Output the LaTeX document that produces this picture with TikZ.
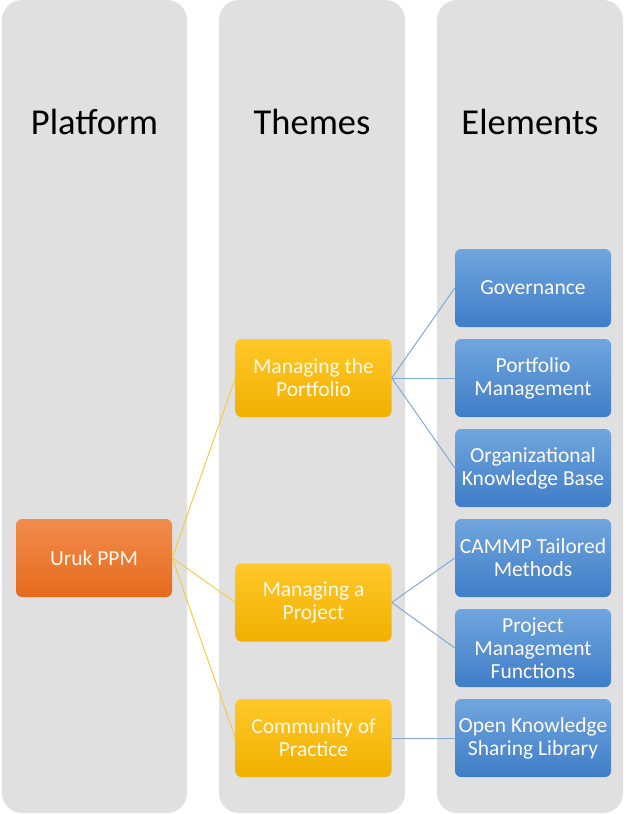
\documentclass[tikz,border=0pt]{standalone}
\usepackage{fontspec}
\setmainfont{Carlito}
\definecolor{colbg}{HTML}{E0E0E0}
\definecolor{orgtop}{HTML}{F28C4E}
\definecolor{orgbot}{HTML}{E56A1C}
\definecolor{yeltop}{HTML}{FFC829}
\definecolor{yelbot}{HTML}{F0B000}
\definecolor{blutop}{HTML}{70A6DE}
\definecolor{blubot}{HTML}{3F7DC8}
\definecolor{yelline}{HTML}{F5CB4A}
\definecolor{bluline}{HTML}{84A9D2}
\definecolor{txtcol}{HTML}{FFF9EC}
\begin{document}
\begin{tikzpicture}[x=1pt,y=-1pt,
  column/.style={fill=colbg, rounded corners=20pt},
  header/.style={font=\fontsize{36.5}{40}\selectfont, text=black},
  box/.style={minimum width=156pt, minimum height=78pt, rounded corners=6pt,
     align=center, text=txtcol, inner sep=2pt,
     font=\fontsize{21.5}{23}\selectfont},
  orangebox/.style={box, top color=orgtop, bottom color=orgbot},
  yellowbox/.style={box, top color=yeltop, bottom color=yelbot},
  bluebox/.style={box, top color=blutop, bottom color=blubot},
  yconn/.style={draw=yelline, line width=1pt},
  bconn/.style={draw=bluline, line width=1pt}]
\useasboundingbox (0,0) rectangle (625,814);
\fill[column] (2,0) rectangle (187,813);
\fill[column] (219,0) rectangle (405,813);
\fill[column] (437,0) rectangle (623,813);
\node[header] (h1) at (94.5,122) {Platform};
\node[header] (h2) at (312,122) {Themes};
\node[header] (h3) at (530,122) {Elements};

\node[orangebox] (uruk) at (94,558) {Uruk PPM};
\node[yellowbox] (mport) at (313.5,378) {Managing the\\Portfolio};
\node[yellowbox] (mproj) at (313.5,602.5) {Managing a\\Project};
\node[yellowbox] (comm) at (313.5,738) {Community of\\Practice};

\node[bluebox] (gov) at (533,288) {Governance};
\node[bluebox] (pm) at (533,378) {Portfolio\\Management};
\node[bluebox] (okb) at (533,468) {Organizational\\Knowledge Base};
\node[bluebox] (cammp) at (533,558) {CAMMP Tailored\\Methods};
\node[bluebox] (pmf) at (533,648) {Project\\Management\\Functions};
\node[bluebox] (oksl) at (533,738) {Open Knowledge\\Sharing Library};

\draw[yconn] (uruk.east) -- (mport.west);
\draw[yconn] (uruk.east) -- (mproj.west);
\draw[yconn] (uruk.east) -- (comm.west);
\draw[bconn] (mport.east) -- (gov.west);
\draw[bconn] (mport.east) -- (pm.west);
\draw[bconn] (mport.east) -- (okb.west);
\draw[bconn] (mproj.east) -- (cammp.west);
\draw[bconn] (mproj.east) -- (pmf.west);
\draw[bconn] (comm.east) -- (oksl.west);
\end{tikzpicture}
\end{document}
